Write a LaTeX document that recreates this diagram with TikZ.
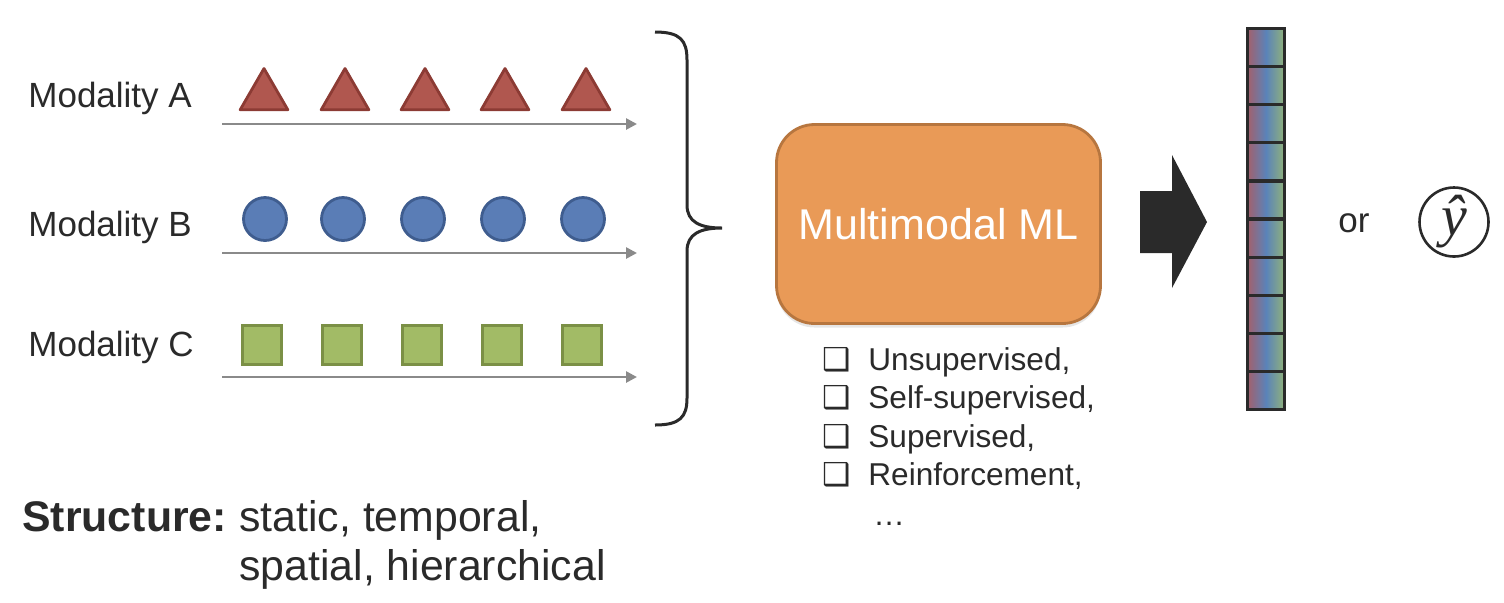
\documentclass[tikz,border=0pt]{standalone}
\usepackage{fontspec}
\setmainfont{Liberation Sans}
\newfontfamily\symfont{DejaVu Sans}
\newfontfamily\hatfont{Liberation Serif}
\usepackage{tikz}
\usetikzlibrary{positioning,arrows.meta,shapes.geometric,shadows}
\usepackage{xcolor}
\definecolor{ink}{HTML}{2A2A2A}
\definecolor{triRed}{HTML}{B0574F}
\definecolor{triEdge}{HTML}{8C3B34}
\definecolor{dotBlue}{HTML}{5A7DB6}
\definecolor{dotEdge}{HTML}{3F5D8F}
\definecolor{sqGreen}{HTML}{A2BB66}
\definecolor{sqEdge}{HTML}{7B9046}
\definecolor{mlOrange}{HTML}{E99A57}
\definecolor{mlEdge}{HTML}{B7763F}
\definecolor{vecRed}{HTML}{A3606C}
\definecolor{vecBlue}{HTML}{5A83B9}
\definecolor{vecGreen}{HTML}{90B27B}
\definecolor{axisGray}{HTML}{8A8A8A}
\newcommand{\cbox}{{\symfont\bfseries ❑}}
\tikzset{
  modlabel/.style={font=\fontsize{17.5}{20}\selectfont, text=ink, anchor=base west, inner sep=0pt},
  listitem/.style={font=\fontsize{15.8}{18}\selectfont, text=ink, anchor=base west, inner sep=0pt},
  structtext/.style={font=\fontsize{21.4}{25}\selectfont, text=ink, anchor=base west, inner sep=0pt},
  tri/.style={regular polygon, regular polygon sides=3, minimum size=27.5pt, inner sep=0pt,
    fill=triRed, draw=triEdge, line width=1.4pt, line join=round},
  dot/.style={circle, minimum size=21.5pt, inner sep=0pt, fill=dotBlue, draw=dotEdge, line width=1.4pt},
  sq/.style={rectangle, minimum size=19.5pt, inner sep=0pt, fill=sqGreen, draw=sqEdge, line width=1.4pt},
  timeline/.style={-{Triangle[length=5.5pt,width=5.5pt]}, draw=axisGray, line width=1.3pt},
  mlbox/.style={rectangle, rounded corners=19pt, minimum width=162pt, minimum height=99.5pt,
    fill=mlOrange, draw=mlEdge, line width=1.4pt, text=white, font=\fontsize{21.5}{25}\selectfont,
    drop shadow={opacity=0.2, shadow xshift=0pt, shadow yshift=-2pt}},
  cell/.style={rectangle, minimum width=18.5pt, minimum height=19.05pt, inner sep=0pt,
    draw=ink, line width=1.6pt, left color=vecRed, right color=vecGreen, middle color=vecBlue},
  outcircle/.style={circle, draw=ink, line width=1.3pt, minimum size=34.5pt, inner sep=0pt,
    font=\hatfont\itshape\fontsize{29}{29}\selectfont, text=ink},
}

\begin{document}
\begin{tikzpicture}[x=0.5pt, y=-0.5pt, >=Stealth]
\useasboundingbox (0,0) rectangle (1504,602);

% modalities
\node[modlabel] (labA) at (28,107) {Modality A};
\node[modlabel] (labB) at (28,236) {Modality B};
\node[modlabel] (labC) at (28,356) {Modality C};

\foreach \x [count=\i] in {264,345,425,505,586}
  \node[tri] (a\i) at (\x,96) {};
\foreach \x [count=\i] in {265,343,423,503,583}
  \node[dot] (b\i) at (\x,219) {};
\foreach \x [count=\i] in {262,342,422,502,582}
  \node[sq] (c\i) at (\x,345) {};

\foreach \n/\y in {A/124,B/253,C/377} {
  \coordinate (t\n0) at (222,\y);
  \coordinate (t\n1) at (637,\y);
  \draw[timeline] (t\n0) -- (t\n1);
}

% brace
\draw[ink, line width=1.5pt]
  (655,32) .. controls (680,32) and (687,40) .. (687,60) -- (687,205)
  .. controls (687,222) and (700,228) .. (722,228)
  .. controls (700,228) and (687,234) .. (687,251) -- (687,398)
  .. controls (687,417) and (680,425) .. (655,425);

% model
\node[mlbox] (ml) at (938.5,224) {Multimodal ML};

\node[listitem] (k1) at (822,370) {\cbox};
\node[listitem] (l1) at (868,370) {Unsupervised,};
\node[listitem] (k2) at (822,408) {\cbox};
\node[listitem] (l2) at (868,408) {Self-supervised,};
\node[listitem] (k3) at (822,447) {\cbox};
\node[listitem] (l3) at (868,447) {Supervised,};
\node[listitem] (k4) at (822,485) {\cbox};
\node[listitem] (l4) at (868,485) {Reinforcement,};
\node[listitem] (l5) at (873,525) {…};

% output
\fill[ink] (1140,191) -- (1172,191) -- (1172,155) -- (1207,222)
  -- (1172,288) -- (1172,253) -- (1140,253) -- cycle;

\foreach \i in {0,...,9}
  \node[cell] (v\i) at (1266,{47.55+38.1*\i}) {};

\node[modlabel] (or) at (1338,232) {or};
\node[outcircle] (yhat) at (1454,222) {ŷ};

% structure
\node[structtext] (st) at (22,531) {\textbf{Structure:}};
\node[structtext] (s1) at (239,531) {static, temporal,};
\node[structtext] (s2) at (239,580) {spatial, hierarchical};
\end{tikzpicture}
\end{document}
